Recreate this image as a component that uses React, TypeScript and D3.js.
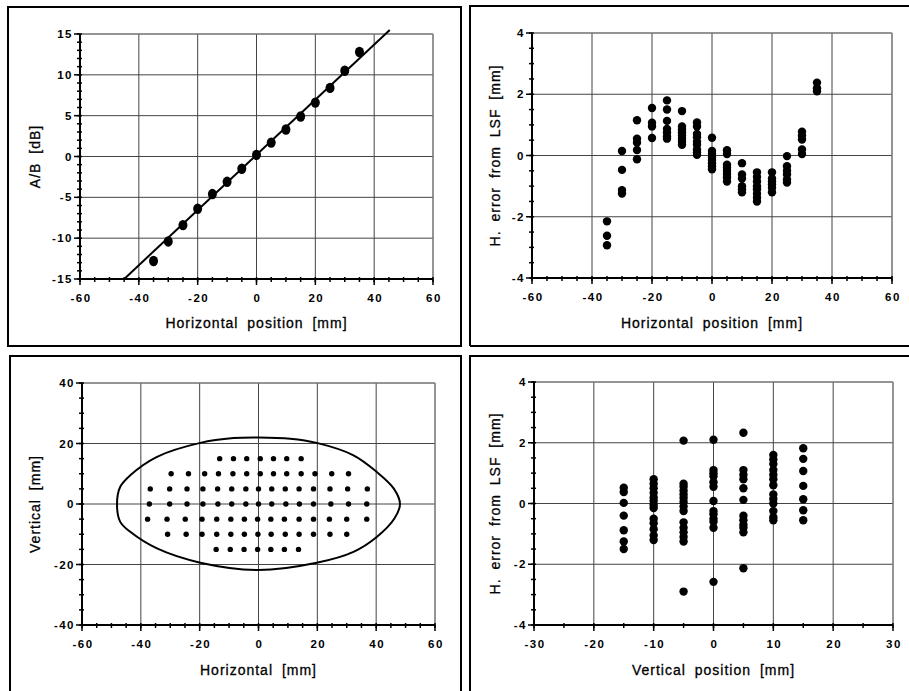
import React from 'react';
import * as d3 from 'd3';

// panel 1: A/B ratio against horizontal position
const abX = [-35, -30, -25, -20, -15, -10, -5, 0, 5, 10, 15, 20, 25, 30, 35];
const abY = [-12.8, -10.4, -8.4, -6.4, -4.6, -3.1, -1.5, 0.2, 1.7, 3.3, 4.9, 6.6, 8.4, 10.5, 12.8];
const fitX = [-44.7, 45.3];
const fitY = [-14.9, 15.5];

// panel 2: H. error from LSF against horizontal position
const hCols = [-35, -30, -25, -20, -15, -10, -5, 0, 5, 10, 15, 20, 25, 30, 35];
const errByH = [
  [-2.15, -2.62, -2.93],
  [0.15, -0.47, -1.13, -1.24],
  [1.15, 0.55, 0.42, 0.18, -0.12],
  [1.55, 1.07, 0.95, 0.57],
  [1.8, 1.5, 1.13, 0.87, 0.75, 0.62, 0.55],
  [1.45, 0.95, 0.85, 0.75, 0.65, 0.55, 0.45, 0.35],
  [1.08, 0.95, 0.7, 0.6, 0.45, 0.35, 0.2, 0.1, 0.02],
  [0.58, 0.15, 0.05, -0.05, -0.15, -0.25, -0.35, -0.45],
  [0.17, 0.05, -0.3, -0.4, -0.5, -0.6, -0.72, -0.85],
  [-0.25, -0.62, -0.75, -1.0, -1.1, -1.2],
  [-0.55, -0.7, -0.85, -1.0, -1.1, -1.25, -1.38, -1.5],
  [-0.55, -0.75, -0.85, -0.95, -1.05, -1.2],
  [-0.02, -0.35, -0.5, -0.62, -0.78, -0.88],
  [0.78, 0.65, 0.52, 0.2, 0.05],
  [2.38, 2.2, 2.1],
];

// panel 3: measurement grid and outline
const rowY = [15, 10, 5, 0, -5, -10, -15];
const rowX = [
  [-13.2, -8.5, -4.0, 0.6, 5.1, 9.6, 14.5],
  [-29.7, -23.8, -18.3, -13.6, -8.7, -4.0, 0.6, 5.1, 9.6, 14.5, 19.2, 24.9, 30.6],
  [-36.8, -30.2, -24.3, -18.9, -13.9, -9.1, -4.3, 0, 4.5, 9.1, 13.8, 18.7, 24.3, 30.3, 37.0],
  [-37.1, -30.2, -24.3, -18.9, -13.8, -9.1, -4.3, 0, 4.5, 9.3, 13.9, 18.7, 24.6, 30.6, 36.8],
  [-37.7, -31.1, -24.9, -19.2, -14.2, -9.4, -4.8, -0.3, 4.2, 8.8, 13.8, 18.7, 24.1, 30.0, 36.8],
  [-30.9, -24.6, -19.2, -14.2, -9.4, -4.8, -0.2, 4.3, 9.1, 13.8, 18.7, 24.3, 30.0],
  [-14.4, -9.6, -4.9, -0.3, 4.2, 8.8, 13.6],
];
const outlineX = [48.1, 46.0, 40.2, 32.3, 19.8, 10.8, 0, -8.5, -19.8, -34.5, -43.6, -47.0, -48.1, -47.0, -43.6, -34.5, -19.8, 0, 19.8, 32.3, 40.2, 46.2];
const outlineY = [0, 5.1, 10.6, 16.1, 20.2, 21.6, 22.0, 21.8, 20.2, 15.6, 9.5, 5.7, 0, -5.9, -9.2, -14.7, -19.4, -21.8, -19.4, -15.8, -10.9, -4.8];

// panel 4: H. error from LSF against vertical position
const vCols = [-15, -10, -5, 0, 5, 10, 15];
const errByV = [
  [0.52, 0.38, 0.02, -0.4, -0.88, -1.25, -1.5],
  [0.8, 0.65, 0.5, 0.35, 0.2, 0.08, -0.05, -0.15, -0.5, -0.65, -0.85, -1.05, -1.2],
  [2.07, 0.65, 0.55, 0.42, 0.3, 0.18, 0.05, -0.1, -0.25, -0.62, -0.8, -0.95, -1.1, -1.25, -2.9],
  [2.1, 1.1, 1.0, 0.9, 0.7, 0.55, 0.08, -0.25, -0.35, -0.5, -0.6, -0.8, -2.58],
  [2.33, 1.1, 0.95, 0.8, 0.5, 0.12, -0.4, -0.55, -0.7, -0.8, -0.95, -2.13],
  [1.6, 1.45, 1.3, 1.1, 0.95, 0.8, 0.6, 0.3, 0.15, 0.0, -0.25, -0.45, -0.55],
  [1.82, 1.47, 1.07, 0.58, 0.14, -0.22, -0.55],
];

const FONT = '"Liberation Sans", Arial, Helvetica, sans-serif';

type Sc = d3.ScaleLinear<number, number>;

function Panel(props: {
  left: number; right: number; top: number; bottom: number;
  xDomain: [number, number]; yDomain: [number, number];
  xStep: number; yStep: number; xMinor: number; yMinor: number;
  xTitle: string; yTitle: string; yTitleX: number; xTitleY: number;
  children: (x: Sc, y: Sc) => React.ReactNode;
}) {
  const { left, right, top, bottom } = props;
  const x = d3.scaleLinear().domain(props.xDomain).range([left, right]);
  const y = d3.scaleLinear().domain(props.yDomain).range([bottom, top]);
  const xMaj = d3.range(props.xDomain[0], props.xDomain[1] + 1e-9, props.xStep);
  const yMaj = d3.range(props.yDomain[0], props.yDomain[1] + 1e-9, props.yStep);
  const xMin = d3.range(props.xDomain[0], props.xDomain[1] + 1e-9, props.xMinor);
  const yMin = d3.range(props.yDomain[0], props.yDomain[1] + 1e-9, props.yMinor);
  const fmt = (v: number) => String(Math.round(v * 100) / 100);
  return (
    <g>
      {xMaj.map((v) => (
        <line key={'gx' + v} x1={x(v)} x2={x(v)} y1={top} y2={bottom} stroke="#444" strokeWidth={1} />
      ))}
      {yMaj.map((v) => (
        <line key={'gy' + v} x1={left} x2={right} y1={y(v)} y2={y(v)} stroke="#444" strokeWidth={1} />
      ))}
      <line x1={left} x2={right} y1={top} y2={top} stroke="#888" strokeWidth={1} />
      <line x1={right} x2={right} y1={top} y2={bottom} stroke="#888" strokeWidth={1} />
      {xMin.map((v) => (
        <line key={'mx' + v} x1={x(v)} x2={x(v)} y1={bottom - 2} y2={bottom + 3} stroke="#000" strokeWidth={1.5} />
      ))}
      {yMin.map((v) => (
        <line key={'my' + v} x1={left - 3} x2={left + 2} y1={y(v)} y2={y(v)} stroke="#000" strokeWidth={1.5} />
      ))}
      {xMaj.map((v) => (
        <g key={'tx' + v}>
          <line x1={x(v)} x2={x(v)} y1={bottom} y2={bottom + 6} stroke="#000" strokeWidth={1.5} />
          <text x={x(v) + 1} y={bottom + 23} textAnchor="middle" fontFamily={FONT} fontSize="11.5px"
            fontWeight="bold" letterSpacing="1.5px" fill="#000">{fmt(v)}</text>
        </g>
      ))}
      {yMaj.map((v) => (
        <g key={'ty' + v}>
          <line x1={left - 6} x2={left} y1={y(v)} y2={y(v)} stroke="#000" strokeWidth={1.5} />
          <text x={left - 7} y={y(v) + 4} textAnchor="end" fontFamily={FONT} fontSize="11.5px"
            fontWeight="bold" letterSpacing="1.5px" fill="#000">{fmt(v)}</text>
        </g>
      ))}
      <line x1={left} x2={left} y1={top} y2={bottom + 1} stroke="#000" strokeWidth={2} />
      <line x1={left - 1} x2={right} y1={bottom} y2={bottom} stroke="#000" strokeWidth={2} />
      {props.children(x, y)}
      <text x={(left + right) / 2} y={props.xTitleY} textAnchor="middle" fontFamily={FONT} fontSize="14px"
        letterSpacing="1px" wordSpacing="4px" fill="#000" stroke="#000" strokeWidth={0.3}>{props.xTitle}</text>
      <text transform={`translate(${props.yTitleX},${(top + bottom) / 2}) rotate(-90)`} textAnchor="middle"
        fontFamily={FONT} fontSize="14px" letterSpacing="1px" wordSpacing="4px" fill="#000" stroke="#000"
        strokeWidth={0.3}>{props.yTitle}</text>
    </g>
  );
}

export default function App() {
  return (
    <svg width={909} height={691} style={{ position: 'absolute', left: 0, top: 0, background: '#fff' }}>
      <rect x={0} y={0} width={909} height={691} fill="#fff" />
      {/* frames */}
      <rect x={8} y={7} width={453} height={339} fill="none" stroke="#000" strokeWidth={2} />
      <path d="M470,346 L470,6 L912,6 M470,346 L912,346" fill="none" stroke="#000" strokeWidth={2} />
      <path d="M10,695 L10,356 L461,356 L461,695" fill="none" stroke="#000" strokeWidth={2} />
      <path d="M470,695 L470,356 L912,356" fill="none" stroke="#000" strokeWidth={2} />

      <Panel left={80} right={433} top={34} bottom={279} xDomain={[-60, 60]} yDomain={[-15, 15]}
        xStep={20} yStep={5} xMinor={5} yMinor={1} xTitle="Horizontal position [mm]" yTitle="A/B [dB]"
        yTitleX={40} xTitleY={328}>
        {(x, y) => (
          <g>
            <line x1={x(fitX[0])} y1={y(fitY[0])} x2={x(fitX[1])} y2={y(fitY[1])} stroke="#000" strokeWidth={2} />
            {abX.map((v, i) => (
              <ellipse key={i} cx={x(v)} cy={y(abY[i])} rx={4.5} ry={5.2} fill="#000" />
            ))}
          </g>
        )}
      </Panel>

      <Panel left={532} right={892} top={33} bottom={278} xDomain={[-60, 60]} yDomain={[-4, 4]}
        xStep={20} yStep={2} xMinor={5} yMinor={0.5} xTitle="Horizontal position [mm]" yTitle="H. error from LSF [mm]"
        yTitleX={500} xTitleY={328}>
        {(x, y) => (
          <g>
            {hCols.map((c, i) => errByH[i].map((e, j) => (
              <circle key={i + '-' + j} cx={x(c)} cy={y(e)} r={4.2} fill="#000" />
            )))}
          </g>
        )}
      </Panel>

      <Panel left={82} right={435} top={383} bottom={625} xDomain={[-60, 60]} yDomain={[-40, 40]}
        xStep={20} yStep={20} xMinor={5} yMinor={5} xTitle="Horizontal [mm]" yTitle="Vertical [mm]"
        yTitleX={40} xTitleY={675}>
        {(x, y) => {
          const path = d3.line<number>()
            .x((v) => x(v))
            .y((_, i) => y(outlineY[i]))
            .curve(d3.curveCatmullRomClosed.alpha(0.5));
          return (
            <g>
              <path d={path(outlineX) || ''} fill="none" stroke="#000" strokeWidth={2} />
              {rowY.map((ry, i) => rowX[i].map((rx, j) => (
                <circle key={i + '-' + j} cx={x(rx)} cy={y(ry)} r={2.7} fill="#000" />
              )))}
            </g>
          );
        }}
      </Panel>

      <Panel left={534} right={893} top={382} bottom={625} xDomain={[-30, 30]} yDomain={[-4, 4]}
        xStep={10} yStep={2} xMinor={5} yMinor={0.5} xTitle="Vertical position [mm]" yTitle="H. error from LSF [mm]"
        yTitleX={500} xTitleY={675}>
        {(x, y) => (
          <g>
            {vCols.map((c, i) => errByV[i].map((e, j) => (
              <circle key={i + '-' + j} cx={x(c)} cy={y(e)} r={4.2} fill="#000" />
            )))}
          </g>
        )}
      </Panel>
    </svg>
  );
}
